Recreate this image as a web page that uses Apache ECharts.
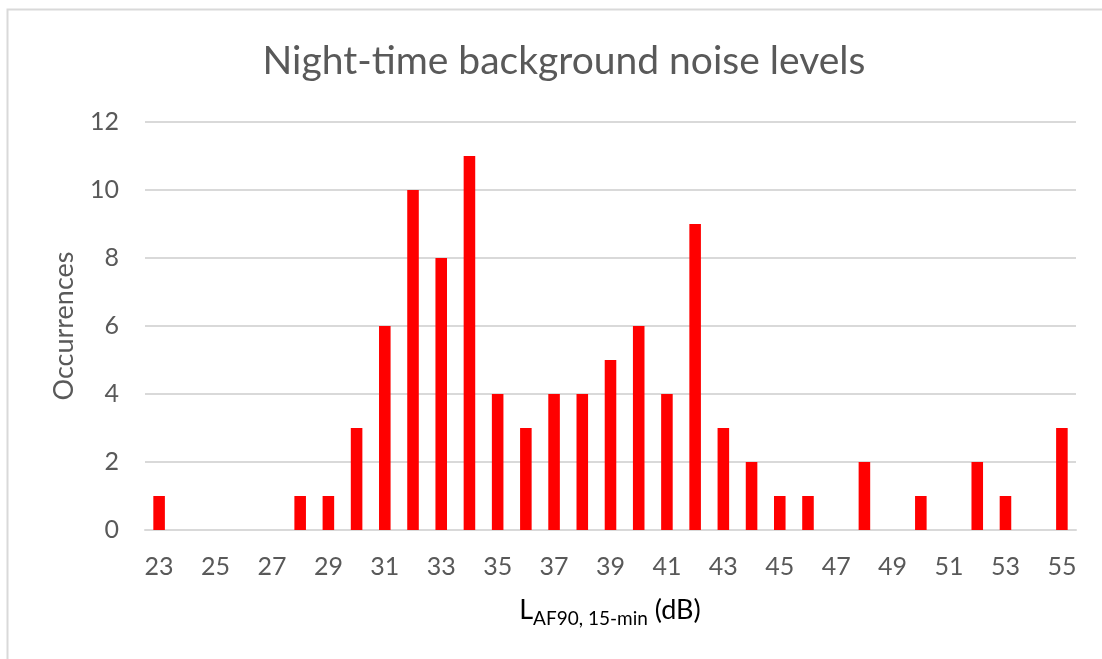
<!DOCTYPE html>
<html><head><meta charset="utf-8">
<script src="https://cdn.jsdelivr.net/npm/echarts@6/dist/echarts.min.js"></script>
<style>html,body{margin:0;padding:0;background:#fff}#c{width:1102px;height:659px}</style>
</head><body><div id="c"></div>
<script>
const categories = ['23','24','25','26','27','28','29','30','31','32','33','34','35','36','37','38','39','40','41','42','43','44','45','46','47','48','49','50','51','52','53','54','55'];
const occurrences = [1,0,0,0,0,1,1,3,6,10,8,11,4,3,4,4,5,6,4,9,3,2,1,1,0,2,0,1,0,2,1,0,3];
const yTicks = [0,2,4,6,8,10,12];

const FONT = 'Lato, "Open Sans", sans-serif';
const chart = echarts.init(document.getElementById('c'));
chart.setOption({
  animation: false,
  backgroundColor: '#fff',
  title: {
    text: 'Night-time background noise levels',
    left: 559, top: 37, textAlign: 'center',
    textStyle: { fontFamily: FONT, fontSize: 39, fontWeight: 'normal', color: '#595959' }
  },
  graphic: [{
    type: 'rect', shape: { x: 7.5, y: 9.5, width: 1200, height: 800 },
    style: { fill: 'none', stroke: '#d9d9d9', lineWidth: 2 }, silent: true, z: -1
  }, {
    type: 'text',
    style: {
      x: 610, y: 597, align: 'center', verticalAlign: 'top',
      text: '{m|L}{s|AF90, 15-min}{m| (dB)}',
      rich: {
        m: { fontFamily: FONT, fontSize: 27, lineHeight: 27, color: '#595959', verticalAlign: 'top' },
        s: { fontFamily: FONT, fontSize: 19, lineHeight: 19, color: '#595959', verticalAlign: 'top', padding: [12, 0, 0, 0] }
      }
    }
  }],
  grid: { left: 145, right: 26, top: 122, bottom: 129 },
  xAxis: {
    type: 'category', data: categories, boundaryGap: true,
    axisLine: { show: true, lineStyle: { color: '#d9d9d9', width: 2 } },
    axisTick: { show: false },
    axisLabel: { interval: 1, fontFamily: FONT, fontSize: 25, color: '#595959', margin: 24 }
  },
  yAxis: {
    type: 'value', min: 0, max: 12, interval: 2,
    name: 'Occurrences', nameLocation: 'middle', nameGap: 67, nameRotate: 90,
    nameTextStyle: { fontFamily: FONT, fontSize: 27, color: '#595959' },
    axisLine: { show: false }, axisTick: { show: false },
    axisLabel: { fontFamily: FONT, fontSize: 25, color: '#595959', margin: 26,
      formatter: v => yTicks.includes(v) ? String(v) : '' },
    splitLine: { lineStyle: { color: '#d9d9d9', width: 2 } }
  },
  series: [{
    type: 'bar', data: occurrences, barWidth: '41%',
    itemStyle: { color: '#ff0000' }
  }]
});
</script></body></html>
